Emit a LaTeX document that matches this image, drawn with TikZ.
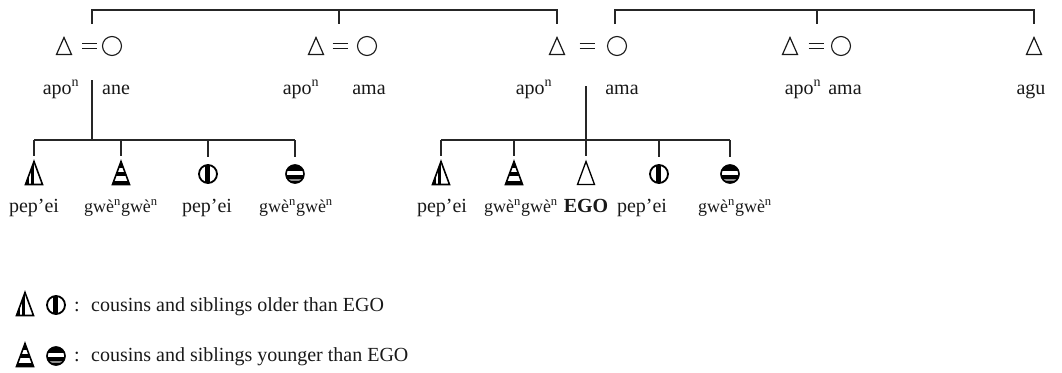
\documentclass[tikz,border=0pt]{standalone}
\usepackage{fontspec}
\setmainfont{Liberation Serif}
\begin{document}
\begin{tikzpicture}[x=1pt,y=-1pt,
  lab/.style={font=\fontsize{20}{24}\selectfont, inner sep=0pt, anchor=base, text=black!90},
  slab/.style={lab, font=\fontsize{18}{22}\selectfont},
  con/.style={line width=1.2pt, draw=black!85},
  pp/.style={shift={(path picture bounding box.center)}, x=1pt, y=1pt},
  ctri/.style={insert path={(-8.5,-11.5) -- (8.5,-11.5) -- (0,11.5) -- cycle}},
  stri/.style={insert path={(-7.5,-8.5) -- (7.5,-8.5) -- (0,8.5) -- cycle}},
  sym/.style={inner sep=0pt, outer sep=0pt, minimum width=26pt, minimum height=35pt},
  tsym/.style={inner sep=0pt, outer sep=0pt, minimum width=24pt, minimum height=24pt},
  topm/.style={tsym, path picture={\draw[pp, stri, line width=1.2pt, line join=miter, draw=black!90];}},
  topf/.style={tsym, path picture={\draw[pp, line width=1.1pt, draw=black!90] (0,0) circle[radius=9.5pt];}},
  eqs/.style={inner sep=0pt, outer sep=0pt, minimum width=18pt, minimum height=10pt,
    path picture={\draw[pp, line width=1.1pt, draw=black!90] (-7.5,2.5) -- (7.5,2.5) (-7.5,-2.5) -- (7.5,-2.5);}},
  egom/.style={sym, path picture={\draw[pp, ctri, line width=1.3pt, line join=miter];}},
  oldm/.style={sym, path picture={
    \begin{scope}\clip[pp, ctri]; \fill[pp] (-10,-13) rectangle (-0.5,13); \fill[pp,white] (-4.8,-13) rectangle (-3.2,13); \end{scope}
    \draw[pp, ctri, line width=1.6pt, line join=miter];}},
  youngm/.style={sym, path picture={
    \begin{scope}\clip[pp, ctri]; \fill[pp] (-10,-13) rectangle (10,13);
      \fill[pp,white] (-10,5) rectangle (10,1.5); \fill[pp,white] (-10,-2.5) rectangle (10,-7.5); \end{scope}
    \draw[pp, ctri, line width=1.6pt, line join=miter];}},
  oldf/.style={sym, path picture={
    \begin{scope}\clip[pp] (0,0) circle[radius=9.5pt]; \fill[pp] (-3,-10) rectangle (1.5,10); \end{scope}
    \draw[pp, line width=1.8pt] (0,0) circle[radius=9pt];}},
  youngf/.style={sym, path picture={
    \begin{scope}\clip[pp] (0,0) circle[radius=9.5pt]; \fill[pp] (-10,-10) rectangle (10,10);
      \fill[pp,white] (-10,-1.2) rectangle (10,2.8); \fill[pp,black!45] (-10,-6.8) rectangle (10,-4.6); \end{scope}
    \draw[pp, line width=1.6pt] (0,0) circle[radius=9pt];}}
]
\useasboundingbox (0,0) rectangle (1062,372);

% ---- parents' generation
\node[topm] (m1) at (64,46) {};  \node[eqs] (e1) at (89.5,46) {}; \node[topf] (f1) at (112,46) {};
\node[topm] (m2) at (316,46) {}; \node[eqs] (e2) at (340,46) {};  \node[topf] (f2) at (367,46) {};
\node[topm] (m3) at (557,46) {}; \node[eqs] (e3) at (587,46) {};  \node[topf] (f3) at (617,46) {};
\node[topm] (m4) at (790,46) {}; \node[eqs] (e4) at (816,46) {};  \node[topf] (f4) at (841,46) {};
\node[topm] (m5) at (1034,46) {};

\node[lab] (l1a) at (61,94) {apo\textsuperscript{n}};
\node[lab] (l1b) at (116,94) {ane};
\node[lab] (l2a) at (301,94) {apo\textsuperscript{n}};
\node[lab] (l2b) at (369,94) {ama};
\node[lab] (l3a) at (534,94) {apo\textsuperscript{n}};
\node[lab] (l3b) at (622,94) {ama};
\node[lab] (l4a) at (803,94) {apo\textsuperscript{n}};
\node[lab] (l4b) at (845,94) {ama};
\node[lab] (l5) at (1031,94) {agu};

% ---- sibling brackets of the parents
\coordinate (b1) at (0,10);
\coordinate (t1) at (92,24); \coordinate (t2) at (339,24); \coordinate (t3) at (557,24);
\coordinate (t4) at (615,24); \coordinate (t5) at (817,24); \coordinate (t6) at (1034,24);
\draw[con] (t1) -- (t1 |- b1) -- (t3 |- b1) -- (t3);
\draw[con] (t2 |- b1) -- (t2);
\draw[con] (t4) -- (t4 |- b1) -- (t6 |- b1) -- (t6);
\draw[con] (t5 |- b1) -- (t5);

% ---- children of couple 1
\node[oldm]   (k11) at (34,173) {};
\node[youngm] (k12) at (121,173) {};
\node[oldf]   (k13) at (208,174) {};
\node[youngf] (k14) at (295,174) {};
\coordinate (v1) at (92,80); \coordinate (g1) at (92,140);
\draw[con] (v1) -- (g1);
\draw[con] (k11.north |- g1) -- (k14.north |- g1);
\foreach \k in {k11,k12,k13,k14} \draw[con] (\k.north |- g1) -- ([yshift=-0.5pt]\k.north);

\node[lab] (n11) at (34,212) {pep’ei};
\node[slab] (n12) at (121,212) {gwè\textsuperscript{n}gwè\textsuperscript{n}};
\node[lab] (n13) at (207,212) {pep’ei};
\node[slab] (n14) at (296,212) {gwè\textsuperscript{n}gwè\textsuperscript{n}};

% ---- children of couple 3 (EGO's siblings)
\node[oldm]   (k21) at (441,173) {};
\node[youngm] (k22) at (514,173) {};
\node[egom]   (ego) at (586,173) {};
\node[oldf]   (k24) at (659,174) {};
\node[youngf] (k25) at (730,174) {};
\coordinate (v2) at (586,86); \coordinate (g2) at (586,140);
\draw[con] (v2) -- (g2);
\draw[con] (k21.north |- g2) -- (k25.north |- g2);
\foreach \k in {k21,k22,ego,k24,k25} \draw[con] (\k.north |- g2) -- ([yshift=-0.5pt]\k.north);

\node[lab] (n21) at (442,212) {pep’ei};
\node[slab] (n22) at (521,212) {gwè\textsuperscript{n}gwè\textsuperscript{n}};
\node[lab, font=\fontsize{20}{24}\selectfont\bfseries] (n23) at (586,212) {EGO};
\node[lab] (n24) at (642,212) {pep’ei};
\node[slab] (n25) at (735,212) {gwè\textsuperscript{n}gwè\textsuperscript{n}};

% ---- legend
\node[oldm] (lm1) at (25,304) {};
\node[oldf] (lf1) at (56,305) {};
\node[lab] (lc1) at (77,311) {:};
\node[lab, anchor=base west] (lt1) at (91,311) {cousins and siblings older than EGO};
\node[youngm] (lm2) at (25,355) {};
\node[youngf] (lf2) at (56,356) {};
\node[lab] (lc2) at (77,361) {:};
\node[lab, anchor=base west] (lt2) at (91,361) {cousins and siblings younger than EGO};
\end{tikzpicture}
\end{document}
